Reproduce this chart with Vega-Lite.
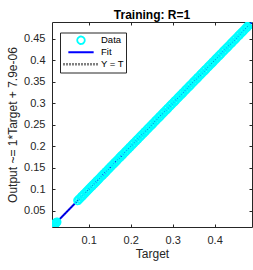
{
  "$schema": "https://vega.github.io/schema/vega-lite/v6.json",
  "width": 200,
  "height": 205,
  "autosize": {"type": "none"},
  "padding": {"left": 52, "top": 22, "right": 1, "bottom": 43},
  "title": {"text": "Training: R=1", "font": "Liberation Sans", "fontSize": 12, "fontWeight": "bold", "color": "#000000", "anchor": "middle", "baseline": "bottom", "offset": -12},
  "config": {
    "view": {"stroke": "#262626", "strokeWidth": 1},
    "axis": {"labelFont": "Liberation Sans", "titleFont": "Liberation Sans", "labelFontSize": 11, "titleFontSize": 12, "labelColor": "#262626", "titleColor": "#262626", "titleFontWeight": "normal", "tickColor": "#262626", "grid": false, "domain": false}
  },
  "datasets": {
    "pts": [
      {"t": 0.013, "o": 0.013, "series": "Data"},
      {"t": 0.015, "o": 0.015, "series": "Data"},
      {"t": 0.016, "o": 0.016, "series": "Data"},
      {"t": 0.018, "o": 0.018, "series": "Data"},
      {"t": 0.020, "o": 0.020, "series": "Data"},
      {"t": 0.022, "o": 0.022, "series": "Data"},
      {"t": 0.024, "o": 0.024, "series": "Data"},
      {"t": 0.074, "o": 0.074, "series": "Data"},
      {"t": 0.078, "o": 0.078, "series": "Data"},
      {"t": 0.082, "o": 0.082, "series": "Data"},
      {"t": 0.085, "o": 0.085, "series": "Data"},
      {"t": 0.089, "o": 0.089, "series": "Data"},
      {"t": 0.093, "o": 0.093, "series": "Data"},
      {"t": 0.097, "o": 0.097, "series": "Data"},
      {"t": 0.101, "o": 0.101, "series": "Data"},
      {"t": 0.105, "o": 0.105, "series": "Data"},
      {"t": 0.109, "o": 0.109, "series": "Data"},
      {"t": 0.113, "o": 0.113, "series": "Data"},
      {"t": 0.117, "o": 0.117, "series": "Data"},
      {"t": 0.121, "o": 0.121, "series": "Data"},
      {"t": 0.125, "o": 0.125, "series": "Data"},
      {"t": 0.130, "o": 0.130, "series": "Data"},
      {"t": 0.134, "o": 0.134, "series": "Data"},
      {"t": 0.138, "o": 0.138, "series": "Data"},
      {"t": 0.142, "o": 0.142, "series": "Data"},
      {"t": 0.147, "o": 0.147, "series": "Data"},
      {"t": 0.151, "o": 0.151, "series": "Data"},
      {"t": 0.155, "o": 0.155, "series": "Data"},
      {"t": 0.160, "o": 0.160, "series": "Data"},
      {"t": 0.164, "o": 0.164, "series": "Data"},
      {"t": 0.168, "o": 0.168, "series": "Data"},
      {"t": 0.173, "o": 0.173, "series": "Data"},
      {"t": 0.177, "o": 0.177, "series": "Data"},
      {"t": 0.181, "o": 0.181, "series": "Data"},
      {"t": 0.186, "o": 0.186, "series": "Data"},
      {"t": 0.190, "o": 0.190, "series": "Data"},
      {"t": 0.195, "o": 0.195, "series": "Data"},
      {"t": 0.199, "o": 0.199, "series": "Data"},
      {"t": 0.204, "o": 0.204, "series": "Data"},
      {"t": 0.208, "o": 0.208, "series": "Data"},
      {"t": 0.213, "o": 0.213, "series": "Data"},
      {"t": 0.217, "o": 0.217, "series": "Data"},
      {"t": 0.222, "o": 0.222, "series": "Data"},
      {"t": 0.226, "o": 0.226, "series": "Data"},
      {"t": 0.231, "o": 0.231, "series": "Data"},
      {"t": 0.235, "o": 0.235, "series": "Data"},
      {"t": 0.240, "o": 0.240, "series": "Data"},
      {"t": 0.244, "o": 0.244, "series": "Data"},
      {"t": 0.249, "o": 0.249, "series": "Data"},
      {"t": 0.253, "o": 0.253, "series": "Data"},
      {"t": 0.258, "o": 0.258, "series": "Data"},
      {"t": 0.262, "o": 0.262, "series": "Data"},
      {"t": 0.267, "o": 0.267, "series": "Data"},
      {"t": 0.271, "o": 0.271, "series": "Data"},
      {"t": 0.276, "o": 0.276, "series": "Data"},
      {"t": 0.280, "o": 0.280, "series": "Data"},
      {"t": 0.285, "o": 0.285, "series": "Data"},
      {"t": 0.289, "o": 0.289, "series": "Data"},
      {"t": 0.294, "o": 0.294, "series": "Data"},
      {"t": 0.298, "o": 0.298, "series": "Data"},
      {"t": 0.303, "o": 0.303, "series": "Data"},
      {"t": 0.307, "o": 0.307, "series": "Data"},
      {"t": 0.312, "o": 0.312, "series": "Data"},
      {"t": 0.316, "o": 0.316, "series": "Data"},
      {"t": 0.321, "o": 0.321, "series": "Data"},
      {"t": 0.325, "o": 0.325, "series": "Data"},
      {"t": 0.330, "o": 0.330, "series": "Data"},
      {"t": 0.334, "o": 0.334, "series": "Data"},
      {"t": 0.339, "o": 0.339, "series": "Data"},
      {"t": 0.343, "o": 0.343, "series": "Data"},
      {"t": 0.348, "o": 0.348, "series": "Data"},
      {"t": 0.352, "o": 0.352, "series": "Data"},
      {"t": 0.357, "o": 0.357, "series": "Data"},
      {"t": 0.361, "o": 0.361, "series": "Data"},
      {"t": 0.366, "o": 0.366, "series": "Data"},
      {"t": 0.370, "o": 0.370, "series": "Data"},
      {"t": 0.375, "o": 0.375, "series": "Data"},
      {"t": 0.379, "o": 0.379, "series": "Data"},
      {"t": 0.384, "o": 0.384, "series": "Data"},
      {"t": 0.388, "o": 0.388, "series": "Data"},
      {"t": 0.393, "o": 0.393, "series": "Data"},
      {"t": 0.397, "o": 0.397, "series": "Data"},
      {"t": 0.402, "o": 0.402, "series": "Data"},
      {"t": 0.406, "o": 0.406, "series": "Data"},
      {"t": 0.411, "o": 0.411, "series": "Data"},
      {"t": 0.415, "o": 0.415, "series": "Data"},
      {"t": 0.420, "o": 0.420, "series": "Data"},
      {"t": 0.424, "o": 0.424, "series": "Data"},
      {"t": 0.429, "o": 0.429, "series": "Data"},
      {"t": 0.433, "o": 0.433, "series": "Data"},
      {"t": 0.438, "o": 0.438, "series": "Data"},
      {"t": 0.442, "o": 0.442, "series": "Data"},
      {"t": 0.447, "o": 0.447, "series": "Data"},
      {"t": 0.451, "o": 0.451, "series": "Data"},
      {"t": 0.456, "o": 0.456, "series": "Data"},
      {"t": 0.460, "o": 0.460, "series": "Data"},
      {"t": 0.465, "o": 0.465, "series": "Data"},
      {"t": 0.469, "o": 0.469, "series": "Data"},
      {"t": 0.474, "o": 0.474, "series": "Data"},
      {"t": 0.478, "o": 0.478, "series": "Data"},
      {"t": 0.483, "o": 0.483, "series": "Data"},
      {"t": 0.487, "o": 0.487, "series": "Data"},
      {"t": 0.489, "o": 0.489, "series": "Data"}
    ],
    "fit": [
      {"t": 0.0125, "o": 0.0125079},
      {"t": 0.489, "o": 0.4890079}
    ],
    "yt": [
      {"t": 0.0125, "o": 0.0125},
      {"t": 0.489, "o": 0.489}
    ]
  },
  "layer": [
    {
      "data": {"name": "fit"},
      "mark": {"type": "line", "color": "#0000FF", "strokeWidth": 2, "clip": true},
      "encoding": {
        "x": {"field": "t", "type": "quantitative", "scale": {"domain": [0.0125, 0.489], "nice": false, "zero": false},
              "axis": {"orient": "bottom", "values": [0.1, 0.2, 0.3, 0.4], "format": "~g", "tickSize": -3, "labelPadding": 10, "title": "Target", "titlePadding": 3}},
        "y": {"field": "o", "type": "quantitative", "scale": {"domain": [0.0125, 0.489], "nice": false, "zero": false},
              "axis": {"orient": "left", "values": [0.05, 0.1, 0.15, 0.2, 0.25, 0.3, 0.35, 0.4, 0.45], "format": "~g", "tickSize": -3, "labelPadding": 10, "title": "Output ~= 1*Target + 7.9e-06", "titlePadding": 4}}
      }
    },
    {
      "data": {"name": "yt"},
      "mark": {"type": "line", "color": "#000000", "strokeWidth": 0.8, "strokeDash": [1, 2], "clip": true},
      "encoding": {
        "x": {"field": "t", "type": "quantitative", "axis": null},
        "y": {"field": "o", "type": "quantitative", "axis": null}
      }
    },
    {
      "data": {"name": "pts"},
      "mark": {"type": "point", "filled": false, "opacity": 1, "clip": true},
      "encoding": {
        "x": {"field": "t", "type": "quantitative", "axis": null},
        "y": {"field": "o", "type": "quantitative", "axis": null},
        "color": {"field": "series", "type": "nominal",
          "scale": {"domain": ["Data", "Fit", "Y = T"], "range": ["#00FFFF", "#0000FF", "#000000"]},
          "legend": {
            "title": null, "orient": "none", "legendX": 8, "legendY": 10.5,
            "padding": 2, "clipHeight": 11.5, "rowPadding": 0, "labelOffset": 1, "symbolOffset": 0,
            "labelFont": "Liberation Sans", "labelFontSize": 9.5, "labelColor": "#000000",
            "strokeColor": "#262626", "fillColor": "#ffffff"
          }
        },
        "shape": {"field": "series", "type": "nominal",
          "scale": {"domain": ["Data", "Fit", "Y = T"], "range": ["circle", "stroke", "stroke"]},
          "legend": {"title": null}
        },
        "size": {"field": "series", "type": "nominal",
          "scale": {"domain": ["Data", "Fit", "Y = T"], "range": [56, 1225, 1225]},
          "legend": {"title": null}
        },
        "strokeWidth": {"field": "series", "type": "nominal",
          "scale": {"domain": ["Data", "Fit", "Y = T"], "range": [1.8, 2.5, 0.8]},
          "legend": {"title": null}
        },
        "strokeDash": {"field": "series", "type": "nominal",
          "scale": {"domain": ["Data", "Fit", "Y = T"], "range": [[1, 0], [1, 0], [1, 2]]},
          "legend": {"title": null}
        }
      }
    },
    {
      "data": {"name": "yt"},
      "mark": {"type": "line", "opacity": 0},
      "encoding": {
        "x": {"field": "t", "type": "quantitative",
              "axis": {"orient": "top", "values": [0.1, 0.2, 0.3, 0.4], "labels": false, "tickSize": -3, "title": null}},
        "y": {"field": "o", "type": "quantitative",
              "axis": {"orient": "right", "values": [0.05, 0.1, 0.15, 0.2, 0.25, 0.3, 0.35, 0.4, 0.45], "labels": false, "tickSize": -3, "title": null}}
      }
    }
  ],
  "resolve": {"axis": {"x": "independent", "y": "independent"}}
}
